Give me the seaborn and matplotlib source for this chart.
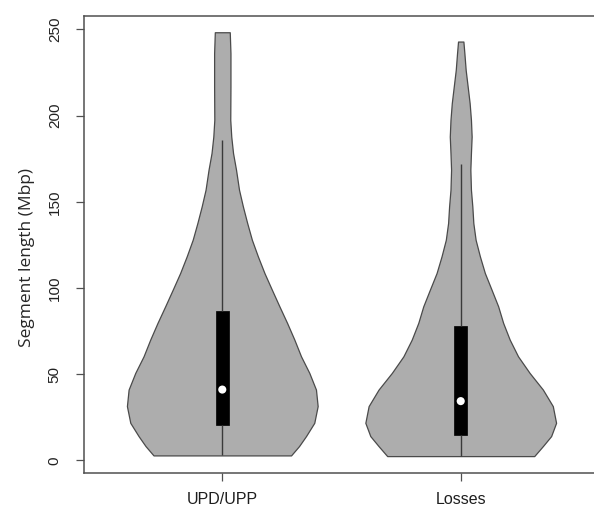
import numpy as np
import pandas as pd
import seaborn as sns
import matplotlib
matplotlib.use("Agg")
import matplotlib.pyplot as plt


groups = ["UPD/UPP", "Losses"]

# violin outlines: segment length (Mbp) and relative half-width
upd_len = [248.4, 236.2, 216.9, 197.6, 187.9, 178.3, 168.6, 157.0, 147.3, 137.7,
           128.0, 118.4, 108.7, 99.1, 89.4, 79.8, 70.1, 60.4, 50.8, 41.1,
           31.5, 21.8, 14.1, 8.3, 2.9]
upd_dens = [7.5, 8.2, 8.2, 8.0, 9.0, 10.8, 13.8, 16.8, 20.7, 25.0,
            29.7, 35.7, 42.3, 49.7, 57.3, 65.0, 72.3, 79.0, 87.3, 94.0,
            95.7, 92.3, 84.0, 77.0, 69.0]

loss_len = [243.0, 236.2, 226.5, 216.9, 207.2, 197.6, 187.9, 178.3, 168.6, 157.0,
            147.3, 137.7, 128.0, 118.4, 108.7, 99.1, 89.4, 79.8, 70.1, 60.4,
            50.8, 41.1, 31.5, 21.8, 14.1, 8.3, 2.5]
loss_dens = [2.7, 3.7, 5.0, 7.0, 9.0, 10.3, 11.0, 10.3, 9.7, 10.3,
             11.7, 12.7, 15.0, 19.3, 24.3, 31.0, 37.7, 42.7, 49.3, 57.7,
             69.3, 82.7, 92.7, 96.0, 91.0, 82.7, 74.0]

# lower whisker, Q1, median, Q3, upper whisker
upd_stats = [2.9, 20.3, 41.1, 86.9, 185.6]
loss_stats = [2.5, 14.5, 34.4, 78.0, 172.0]

yticks = [0, 50, 100, 150, 200, 250]


sns.set_theme(style="ticks", rc={"axes.edgecolor": "#505050", "axes.linewidth": 1.1,
                                 "xtick.color": "#505050", "ytick.color": "#505050",
                                 "xtick.labelcolor": "#1e1e1e", "ytick.labelcolor": "#222222"})
plt.rcParams["font.family"] = ["Liberation Sans", "DejaVu Sans"]

fig = plt.figure(figsize=(5.94, 5.07), dpi=100)
ax = fig.add_axes([84 / 594, 34 / 507, 510 / 594, 457.3 / 507])

for i, (ln, dn) in enumerate([(upd_len, upd_dens), (loss_len, loss_dens)]):
    ln = np.array(ln)
    dn = np.array(dn)
    half = dn / dn.max() * 0.4
    ax.fill_betweenx(ln, i - half, i + half, facecolor="#adadad",
                     edgecolor="#4a4a4a", linewidth=0.9, zorder=1)

box = pd.DataFrame({"group": np.repeat(groups, 5),
                    "length": upd_stats + loss_stats})
sns.boxplot(data=box, x="group", y="length", order=groups, ax=ax,
            whis=np.inf, width=0.054, showcaps=False, showfliers=False,
            color="black", linecolor="#3a3a3a",
            boxprops=dict(facecolor="black", edgecolor="black", linewidth=0.5),
            whiskerprops=dict(color="#3a3a3a", linewidth=1.0),
            medianprops=dict(visible=False), zorder=2)

sns.scatterplot(x=[0, 1], y=[upd_stats[2], loss_stats[2]], ax=ax, color="white",
                s=34, edgecolor="none", zorder=3)

ax.spines["right"].set_visible(False)
ax.set_xlim(-0.58, 1.559)
ax.set_ylim(-7.3, 258)
ax.set_xticks([0, 1])
ax.set_xticklabels(groups, fontsize=11.5)
ax.set_yticks(yticks)
ax.set_yticklabels([str(t) for t in yticks], rotation=90, va="center", fontsize=11)
ax.tick_params(direction="out", length=6, width=0.9)
ax.tick_params(axis="x", pad=7.5)
ax.tick_params(axis="y", pad=10)
ax.set_xlabel("")
ax.set_ylabel("Segment length (Mbp)", fontsize=12.5, family=["Open Sans", "DejaVu Sans"])
ax.yaxis.set_label_coords(-0.096, 0.471)

fig.savefig("out.png", dpi=100)
